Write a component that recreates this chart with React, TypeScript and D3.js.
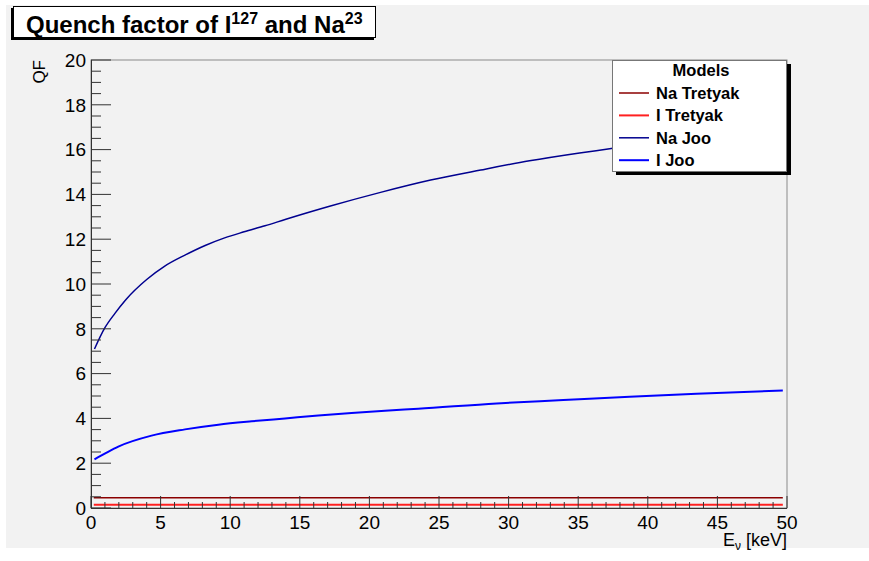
import React from "react";
import * as d3 from "d3";

// Recoil energy (keV) and quenching factor per model
const naJooE = [0.25, 1.0, 1.72, 2.5, 4.0, 5.3, 6.75, 8.2, 9.6, 11.0, 12.5, 14.0, 17.2, 20.8, 24.4, 28.0, 31.5, 35.1, 37.5, 40.0, 45.0, 49.7];
const naJooQF = [7.1, 8.05, 8.69, 9.3, 10.2, 10.8, 11.29, 11.72, 12.06, 12.33, 12.6, 12.89, 13.48, 14.09, 14.64, 15.09, 15.5, 15.85, 16.06, 16.3, 16.75, 17.15];

const iJooE = [0.25, 1.12, 1.96, 4.35, 6.75, 9.15, 11.54, 13.94, 16.33, 18.72, 21.12, 23.51, 29.14, 33.93, 38.7, 43.5, 49.7];
const iJooQF = [2.17, 2.47, 2.74, 3.23, 3.51, 3.72, 3.87, 4.0, 4.13, 4.24, 4.34, 4.43, 4.67, 4.82, 4.97, 5.1, 5.25];

const tretyakE = [0.2, 49.7];
const naTretyakQF = [0.46, 0.46];
const iTretyakQF = [0.15, 0.15];

const legendLabels = ["Na Tretyak", "I Tretyak", "Na Joo", "I Joo"];
const legendColors = ["#8b0000", "#ff2020", "#00008f", "#0000ff"];
const legendWidths = [1.5, 2, 1.5, 2];

const xTicks = [0, 5, 10, 15, 20, 25, 30, 35, 40, 45, 50];
const yTicks = [0, 2, 4, 6, 8, 10, 12, 14, 16, 18, 20];

const FONT = "'Liberation Sans', Arial, Helvetica, sans-serif";

export default function App() {
  const W = 869;
  const H = 561;
  const x = d3.scaleLinear().domain([0, 50]).range([91, 787]);
  const y = d3.scaleLinear().domain([0, 20]).range([508, 60]);

  const line = d3
    .line<[number, number]>()
    .x((d) => x(d[0]))
    .y((d) => y(d[1]))
    .curve(d3.curveMonotoneX);

  const zip = (a: number[], b: number[]) => a.map((v, i) => [v, b[i]] as [number, number]);

  const series = [
    { pts: zip(tretyakE, naTretyakQF), color: legendColors[0], w: legendWidths[0] },
    { pts: zip(tretyakE, iTretyakQF), color: legendColors[1], w: legendWidths[1] },
    { pts: zip(naJooE, naJooQF), color: legendColors[2], w: legendWidths[2] },
    { pts: zip(iJooE, iJooQF), color: legendColors[3], w: legendWidths[3] },
  ];

  const xMinor = d3.range(0, 51, 1).filter((v) => v % 5 !== 0);
  const yMinor = d3.range(0, 20.01, 0.5).filter((v) => Math.abs(v % 2) > 1e-6);

  const [x0, x1] = x.range();
  const [y0, y1] = y.range();

  return (
    <svg
      width={W}
      height={H}
      style={{ position: "absolute", left: 0, top: 0, display: "block" }}
      fontFamily={FONT}
    >
      <rect x={0} y={0} width={W} height={H} fill="#ffffff" />
      <rect x={6} y={5} width={W - 6} height={543} fill="#f2f2f2" />

      {/* frame */}
      <rect x={x0} y={y1} width={x1 - x0} height={y0 - y1} fill="#f2f2f2" stroke="#8a8a8a" strokeWidth={1} />

      {/* curves */}
      <g fill="none">
        {series.map((s, i) => (
          <path key={i} d={line(s.pts) || ""} stroke={s.color} strokeWidth={s.w} />
        ))}
      </g>

      {/* axes */}
      <g stroke="#333" strokeWidth={1}>
        <line x1={x0} x2={x1} y1={y0 + 0.5} y2={y0 + 0.5} />
        <line x1={x0 + 0.5} x2={x0 + 0.5} y1={y0} y2={y1} />
        {xTicks.map((t) => (
          <line key={"xt" + t} x1={x(t)} x2={x(t)} y1={y0} y2={y0 - 12} />
        ))}
        {xMinor.map((t) => (
          <line key={"xm" + t} x1={x(t)} x2={x(t)} y1={y0} y2={y0 - 6} />
        ))}
        {yTicks.map((t) => (
          <line key={"yt" + t} x1={x0} x2={x0 + 20} y1={y(t)} y2={y(t)} />
        ))}
        {yMinor.map((t) => (
          <line key={"ym" + t} x1={x0} x2={x0 + 10} y1={y(t)} y2={y(t)} />
        ))}
      </g>

      {/* tick labels */}
      <g fontSize={19} fill="#000">
        {xTicks.map((t) => (
          <text key={"xl" + t} x={x(t)} y={529} textAnchor="middle">
            {t}
          </text>
        ))}
        {yTicks.map((t) => (
          <text key={"yl" + t} x={86} y={y(t)} dy="0.36em" textAnchor="end">
            {t}
          </text>
        ))}
      </g>

      {/* axis titles */}
      <text x={787} y={546} fontSize={18} textAnchor="end" fill="#000">
        E<tspan fontSize={12} dy={4}>ν</tspan>
        <tspan dy={-4}> [keV]</tspan>
      </text>
      <text transform="translate(45,60) rotate(-90)" fontSize={17} textAnchor="end" fill="#000">
        QF
      </text>

      {/* title */}
      <rect x={11} y={8} width={363} height={32} fill="#000" />
      <rect x={13.5} y={6.5} width={362} height={31} fill="#fff" stroke="#000" strokeWidth={1} />
      <text x={26} y={33} fontSize={24} fontWeight="bold" fill="#000">
        Quench factor of I<tspan fontSize={16} dy={-9}>127</tspan>
        <tspan dy={9}> and Na</tspan>
        <tspan fontSize={16} dy={-9}>23</tspan>
      </text>

      {/* legend */}
      <rect x={616} y={64} width={175} height={111} fill="#000" />
      <rect x={612.5} y={60.5} width={174} height={111} fill="#fff" stroke="#777" strokeWidth={1} />
      <text x={701} y={76} fontSize={16.5} fontWeight="bold" textAnchor="middle" fill="#000">
        Models
      </text>
      {legendLabels.map((lab, i) => {
        const yy = 93 + i * 22.4;
        return (
          <g key={lab}>
            <line x1={619} x2={649} y1={yy} y2={yy} stroke={legendColors[i]} strokeWidth={legendWidths[i]} />
            <text x={656} y={yy + 6} fontSize={16.5} fontWeight="bold" fill="#000">
              {lab}
            </text>
          </g>
        );
      })}
    </svg>
  );
}
